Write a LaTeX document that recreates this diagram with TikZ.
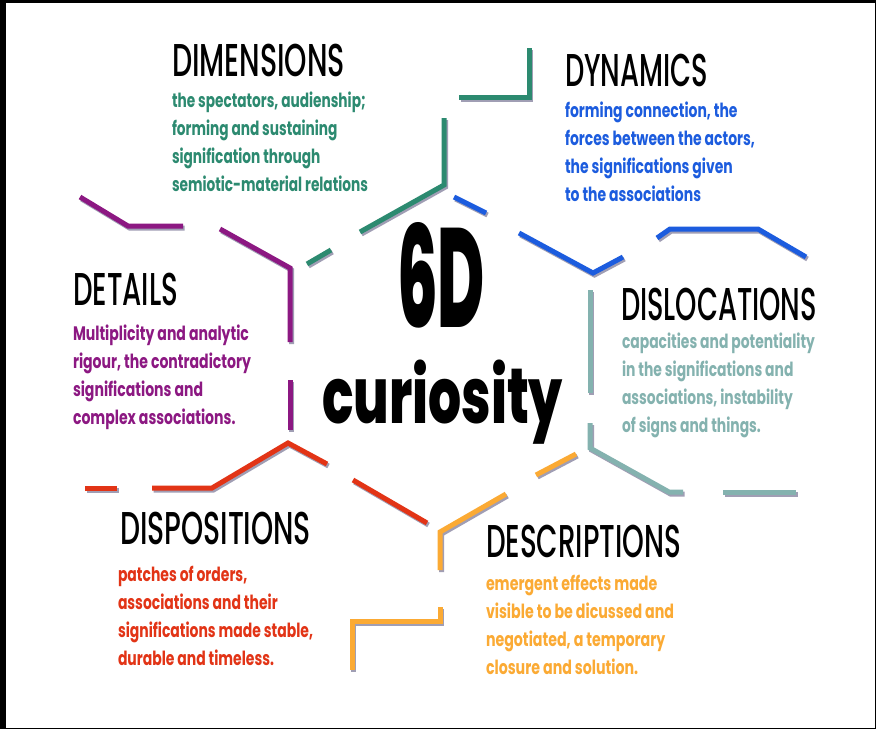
\documentclass[tikz,border=0pt]{standalone}
\usepackage{fontspec}
\usepackage{graphicx}
\setmainfont{Poppins}
\IfFontExistsTF{Poppins Medium}{\newfontfamily\headfont{Poppins Medium}}{\newfontfamily\headfont{Poppins}}
\IfFontExistsTF{Poppins Bold}{\newfontfamily\bodyfont{Poppins Bold}}{\newfontfamily\bodyfont{Poppins}}
\IfFontExistsTF{Poppins ExtraBold}{\newfontfamily\bigfont{Poppins ExtraBold}}{\newfontfamily\bigfont[FakeBold=2]{Poppins}}
\definecolor{cgreen}{RGB}{44,138,112}
\definecolor{cblue}{RGB}{28,92,222}
\definecolor{cpurple}{RGB}{140,24,130}
\definecolor{cteal}{RGB}{132,178,175}
\definecolor{cred}{RGB}{226,52,22}
\definecolor{corange}{RGB}{251,170,52}
\definecolor{cshadow}{RGB}{160,158,180}
\newcommand\headtxt[2]{\resizebox{#1pt}{\height}{\headfont\fontsize{46}{50}\selectfont #2}}
\newcommand\bodytxt[2]{\resizebox{#1pt}{\height}{\bodyfont\fontsize{19.5}{28.3}\selectfont\begin{tabular}[t]{@{}l@{}}#2\end{tabular}}}
\newcommand\seg[2]{\draw[shadowline,shift={(1.5,2)}] #2; \draw[segline,#1] #2;}
\tikzset{
  shadowline/.style={line width=5pt,cshadow},
  segline/.style={line width=5pt},
  lbl/.style={anchor=base west,inner sep=0pt,outer sep=0pt}
}
\begin{document}
\begin{tikzpicture}[x=1pt,y=-1pt]
\useasboundingbox (0,0) rectangle (876,729);
\fill[black] (0,0) rectangle (876,729);
\fill[white] (6,3) rectangle (874.5,727.5);
% green
\seg{cgreen}{(459,97)--(529,97)--(529,48)}
\seg{cgreen}{(444,118)--(444,185)--(360,232)}
\seg{cgreen}{(331,250)--(307,264)}
% purple
\seg{cpurple}{(80,197)--(128,226)--(183,226)}
\seg{cpurple}{(220,229)--(290,268)--(290,342)}
\seg{cpurple}{(290,380)--(290,430)}
% red
\seg{cred}{(85,488)--(117,488)}
\seg{cred}{(152,488)--(212,488)--(288,443)--(327,464)}
\seg{cred}{(353,480)--(427,523)}
% orange
\seg{corange}{(576,454)--(536,475)}
\seg{corange}{(506,494)--(440,532)--(440,570)}
\seg{corange}{(440,607)--(440,621)--(352,621)--(352,670)}
% blue
\seg{cblue}{(454,197)--(486,213)}
\seg{cblue}{(519,233)--(593,273)--(623,257)}
\seg{cblue}{(657,238)--(670,229)--(758,229)--(806,257)}
% teal
\seg{cteal}{(590,290)--(590,393)}
\seg{cteal}{(590,423)--(590,448)--(669,492)--(683,492)}
\seg{cteal}{(723,492)--(796,492)}
% headings
\node[lbl] (hdim) at (172,76) {\headtxt{173}{DIMENSIONS}};
\node[lbl] (hdyn) at (565,86) {\headtxt{143}{DYNAMICS}};
\node[lbl] (hdet) at (73,305) {\headtxt{105}{DETAILS}};
\node[lbl] (hdis) at (621,320) {\headtxt{196}{DISLOCATIONS}};
\node[lbl] (hdsp) at (120,544) {\headtxt{191}{DISPOSITIONS}};
\node[lbl] (hdes) at (486,557) {\headtxt{195}{DESCRIPTIONS}};
% bodies
\node[lbl,text=cgreen] (bdim) at (172,107) {\bodytxt{196}{the spectators, audienship;\\forming and sustaining\\signification through\\semiotic-material relations}};
\node[lbl,text=cblue] (bdyn) at (565,117) {\bodytxt{190}{forming connection, the\\forces between the actors,\\the significations given\\to the associations}};
\node[lbl,text=cpurple] (bdet) at (73,340) {\bodytxt{178}{Multiplicity and analytic\\rigour, the contradictory\\significations and\\complex associations.}};
\node[lbl,text=cteal] (bdis) at (622,348) {\bodytxt{193}{capacities and potentiality\\in the significations and\\associations, instability\\of signs and things.}};
\node[lbl,text=cred] (bdsp) at (118,581) {\bodytxt{195}{patches of orders,\\associations and their\\significations made stable,\\durable and timeless.}};
\node[lbl,text=corange] (bdes) at (486,590) {\bodytxt{188}{emergent effects made\\visible to be dicussed and\\negotiated, a temporary\\closure and solution.}};
% title
\node[lbl] (six) at (397,327) {\resizebox{88pt}{\height}{\bigfont\fontsize{141}{150}\selectfont 6D}};
\node[lbl] (cur) at (322,423) {\resizebox{241pt}{\height}{\bigfont\fontsize{78}{90}\selectfont curiosity}};
\end{tikzpicture}
\end{document}
